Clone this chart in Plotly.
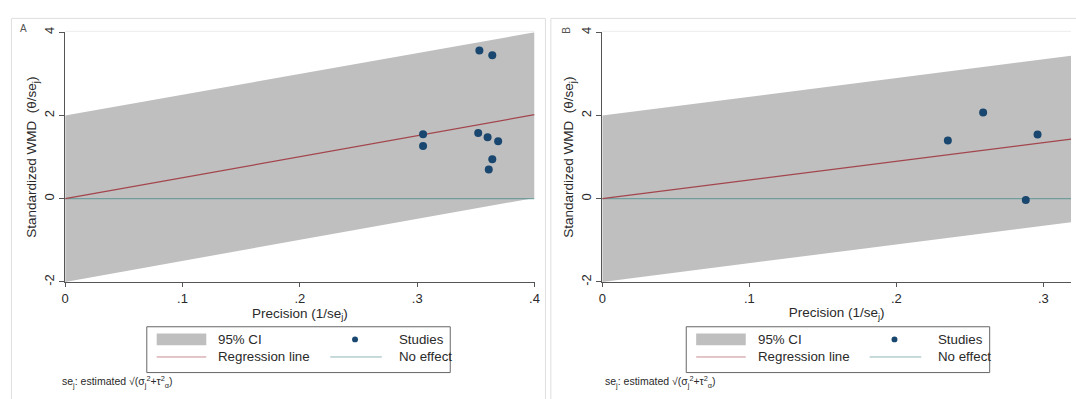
import plotly.graph_objects as go

# ---------------- data ----------------
# Panel A
a_study_precision = [0.353, 0.364, 0.305, 0.305, 0.352, 0.360, 0.369, 0.364, 0.361]
a_study_zscore = [3.56, 3.45, 1.55, 1.27, 1.58, 1.48, 1.38, 0.95, 0.70]
a_line_precision = [0.0, 0.4]
a_regression = [0.0, 2.02]
a_ci_upper = [2.0, 4.0]
a_ci_lower = [-2.0, 0.02]

# Panel B
b_study_precision = [0.235, 0.259, 0.296, 0.288]
b_study_zscore = [1.40, 2.07, 1.545, -0.03]
b_line_precision = [0.0, 0.32]
b_regression = [0.0, 1.44]
b_ci_upper = [2.0, 3.44]
b_ci_lower = [-2.0, -0.56]

no_effect = [0.0, 0.0]

x_ticks_a = [0, 0.1, 0.2, 0.3, 0.4]
x_ticks_b = [0, 0.1, 0.2, 0.3]
x_tick_labels = ["0", ".1", ".2", ".3", ".4"]
y_ticks = [-2, 0, 2, 4]
y_tick_labels = ["-2", "0", "2", "4"]

legend_labels = ["95% CI", "Studies", "Regression line", "No effect"]
panel_labels = ["A", "B"]

# ---------------- style ----------------
W, H = 1076, 399
FONT = "Liberation Sans, Arial, sans-serif"
BAND = "#bfbfbf"
NAVY = "#1a476f"
MAROON = "#a3454c"
TEAL = "#5f9595"
AXIS = "#555555"
TXT = "#2a2a2a"


def px(x):
    return x / W


def py(y):
    return 1 - y / H


fig = go.Figure()


def add_panel(xa, ya, lx, reg, up, lo, sx, sy):
    fig.add_trace(go.Scatter(
        x=list(lx) + list(lx)[::-1], y=list(lo) + list(up)[::-1],
        fill="toself", fillcolor=BAND, mode="lines", line=dict(width=0, color=BAND),
        xaxis=xa, yaxis=ya, showlegend=False, hoverinfo="skip"))
    fig.add_trace(go.Scatter(
        x=lx, y=no_effect, mode="lines", line=dict(color=TEAL, width=1),
        xaxis=xa, yaxis=ya, showlegend=False))
    fig.add_trace(go.Scatter(
        x=lx, y=reg, mode="lines", line=dict(color=MAROON, width=1.2),
        xaxis=xa, yaxis=ya, showlegend=False))
    fig.add_trace(go.Scatter(
        x=sx, y=sy, mode="markers", marker=dict(color=NAVY, size=8),
        xaxis=xa, yaxis=ya, showlegend=False))


add_panel("x", "y", a_line_precision, a_regression, a_ci_upper, a_ci_lower,
          a_study_precision, a_study_zscore)
add_panel("x2", "y2", b_line_precision, b_regression, b_ci_upper, b_ci_lower,
          b_study_precision, b_study_zscore)

Y_TOP, Y_BOT = 27, 283
A_X0, A_X1 = 61.7, 535.0
B_X0 = 603.3
B_PX_PER_UNIT = 1483.0

common_x = dict(showline=True, linecolor=AXIS, linewidth=1, ticks="outside",
                ticklen=4, tickcolor=AXIS, showgrid=False, zeroline=False,
                tickfont=dict(family=FONT, size=13, color=TXT),
                title_font=dict(family=FONT, size=13.5, color=TXT),
                title_standoff=3)
common_y = dict(showline=True, linecolor=AXIS, linewidth=1, ticks="outside",
                ticklen=5, tickcolor=AXIS, showgrid=False, zeroline=False,
                tickfont=dict(family=FONT, size=13, color=TXT),
                title_font=dict(family=FONT, size=13.5, color=TXT),
                tickangle=-90, range=[-2, 4], tickvals=y_ticks,
                ticktext=y_tick_labels, title_standoff=2,
                domain=[py(Y_BOT), py(Y_TOP)])

fig.update_layout(
    width=W, height=H, margin=dict(l=0, r=0, t=0, b=0),
    paper_bgcolor="white", plot_bgcolor="white", showlegend=False,
    font=dict(family=FONT, color=TXT),
    xaxis=dict(common_x, domain=[px(A_X0), px(A_X1)], range=[0, 0.4],
               tickvals=x_ticks_a, ticktext=x_tick_labels,
               title_text="Precision (1/se<sub>j</sub>)", anchor="y"),
    yaxis=dict(common_y, anchor="x",
               title_text="Standardized WMD  (θ/se<sub>j</sub>)"),
    xaxis2=dict(common_x, domain=[px(B_X0), 1.0],
                range=[0, (W - B_X0) / B_PX_PER_UNIT],
                tickvals=x_ticks_b, ticktext=x_tick_labels[:4],
                title_text="Precision (1/se<sub>j</sub>)", anchor="y2"),
    yaxis2=dict(common_y, anchor="x2",
                title_text="Standardized WMD  (θ/se<sub>j</sub>)"),
)

shapes = []
annotations = []

# outer graph-region borders
shapes.append(dict(type="rect", xref="paper", yref="paper",
                   x0=px(7.5), x1=px(546), y0=py(420), y1=py(12.7),
                   line=dict(color="#dedede", width=1), layer="below"))
shapes.append(dict(type="rect", xref="paper", yref="paper",
                   x0=px(551.5), x1=px(1100), y0=py(420), y1=py(12.7),
                   line=dict(color="#dedede", width=1), layer="below"))
# faint plot-region top edges
shapes.append(dict(type="line", xref="paper", yref="paper",
                   x0=px(A_X0), x1=px(A_X1), y0=py(Y_TOP - 1), y1=py(Y_TOP - 1),
                   line=dict(color="#ececec", width=1), layer="below"))
shapes.append(dict(type="line", xref="paper", yref="paper",
                   x0=px(B_X0), x1=1, y0=py(Y_TOP - 1), y1=py(Y_TOP - 1),
                   line=dict(color="#ececec", width=1), layer="below"))


def draw_legend(L):
    Wd = 306
    top, bot = 329, 376
    r1, r2 = 342, 360
    shapes.append(dict(type="rect", xref="paper", yref="paper",
                       x0=px(L), x1=px(L + Wd), y0=py(bot), y1=py(top),
                       line=dict(color="#666666", width=1), fillcolor="white"))
    shapes.append(dict(type="rect", xref="paper", yref="paper",
                       x0=px(L + 10), x1=px(L + 60), y0=py(r1 + 6), y1=py(r1 - 6),
                       line=dict(width=0), fillcolor=BAND))
    shapes.append(dict(type="circle", xref="paper", yref="paper",
                       x0=px(L + 207), x1=px(L + 213), y0=py(r1 + 3), y1=py(r1 - 3),
                       line=dict(width=0), fillcolor=NAVY))
    shapes.append(dict(type="line", xref="paper", yref="paper",
                       x0=px(L + 10), x1=px(L + 60), y0=py(r2), y1=py(r2),
                       line=dict(color="#c98a90", width=1)))
    shapes.append(dict(type="line", xref="paper", yref="paper",
                       x0=px(L + 185), x1=px(L + 237), y0=py(r2), y1=py(r2),
                       line=dict(color="#8fb5b5", width=1)))
    for text, x, y in [(legend_labels[0], L + 70, r1), (legend_labels[1], L + 252, r1),
                       (legend_labels[2], L + 70, r2), (legend_labels[3], L + 252, r2)]:
        annotations.append(dict(text=text, xref="paper", yref="paper",
                                x=px(x), y=py(y), xanchor="left", yanchor="middle",
                                showarrow=False,
                                font=dict(family=FONT, size=13.3, color=TXT)))


draw_legend(144)
draw_legend(688)

foot = "se<sub>j</sub>: estimated √(σ<sub>j</sub><sup>2</sup>+τ<sup>2</sup><sub>α</sub>)"
for x in (56, 604):
    annotations.append(dict(text=foot, xref="paper", yref="paper",
                            x=px(x), y=py(386), xanchor="left", yanchor="middle",
                            showarrow=False, font=dict(family=FONT, size=10.5, color=TXT)))

annotations.append(dict(text=panel_labels[0], xref="paper", yref="paper",
                        x=px(20), y=py(23), xanchor="center", yanchor="middle",
                        showarrow=False, font=dict(family=FONT, size=10, color="#555")))
annotations.append(dict(text=panel_labels[1], xref="paper", yref="paper",
                        x=px(567), y=py(25), xanchor="center", yanchor="middle",
                        textangle=-90, showarrow=False,
                        font=dict(family=FONT, size=10, color="#555")))

fig.update_layout(shapes=shapes, annotations=annotations)
fig.write_html("out.html")
